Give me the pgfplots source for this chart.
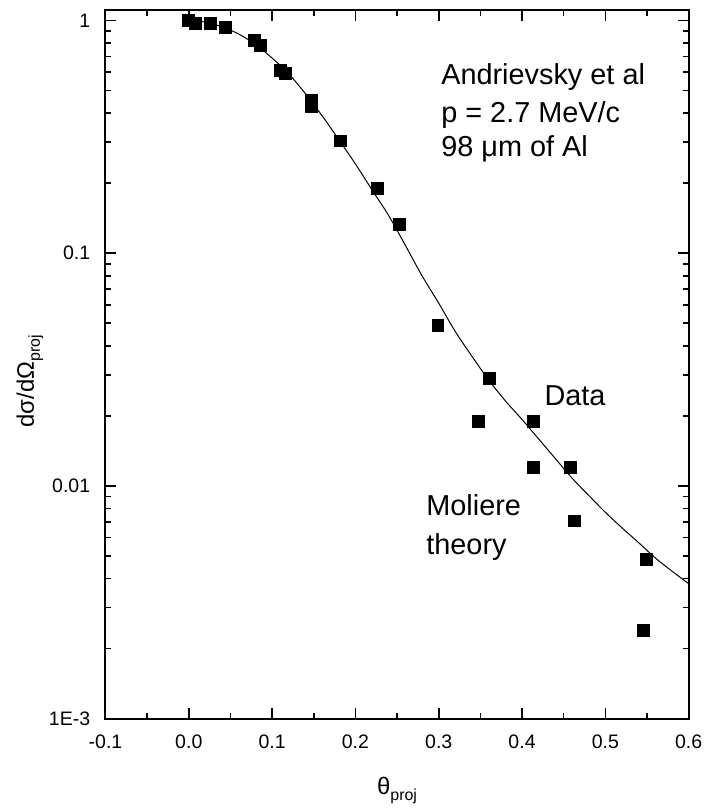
\documentclass[border=0pt]{standalone}
\usepackage{pgfplots}
\pgfplotsset{compat=1.18}
\usepackage{fontspec}
\setmainfont{Liberation Sans}

\begin{document}
\begin{tikzpicture}
\begin{axis}[
  scale only axis,
  width=293pt, height=356pt,
  xmin=-0.1, xmax=0.6,
  ymode=log, ymin=1e-3, ymax=1.111,
  axis line style={line width=1pt},
  tick align=inside,
  major tick length=5.5pt,
  minor tick length=3pt,
  every tick/.style={black, line width=0.8pt},
  xtick={-0.1,0,0.1,0.2,0.3,0.4,0.5,0.6},
  xticklabels={-0.1,0.0,0.1,0.2,0.3,0.4,0.5,0.6},
  minor xtick={-0.05,0.05,0.15,0.25,0.35,0.45,0.55},
  ytick={0.001,0.01,0.1,1},
  yticklabels={1E-3,0.01,0.1,1},
  minor ytick={0.002,0.003,0.004,0.005,0.006,0.007,0.008,0.009,
               0.02,0.03,0.04,0.05,0.06,0.07,0.08,0.09,
               0.2,0.3,0.4,0.5,0.6,0.7,0.8,0.9},
  xticklabel style={font=\fontsize{9.8}{12}\selectfont, inner sep=0pt, anchor=north, yshift=-8pt},
  yticklabel style={font=\fontsize{9.8}{12}\selectfont, inner sep=0pt, anchor=east, xshift=-7.5pt},
  xlabel={θ\raisebox{-3pt}{\fontsize{8}{9}\selectfont proj}},
  ylabel={dσ/dΩ\raisebox{-3pt}{\fontsize{8}{9}\selectfont proj}},
  every axis x label/.style={at={(axis description cs:0.5,-0.101)}, anchor=center, font=\fontsize{12}{14}\selectfont},
  every axis y label/.style={at={(axis description cs:-0.1297,0.476)}, anchor=center, rotate=90, font=\fontsize{12}{14}\selectfont},
]
% Moliere theory curve
\addplot[black, line width=0.5pt, smooth, no markers] coordinates {
(0.00,1.0) (0.02,0.985) (0.04,0.94) (0.06,0.875) (0.08,0.79) (0.10,0.69)
(0.12,0.59) (0.14,0.485) (0.16,0.39) (0.18,0.308) (0.20,0.242) (0.22,0.187)
(0.24,0.145) (0.26,0.108) (0.28,0.080) (0.30,0.061) (0.32,0.046) (0.34,0.036)
(0.36,0.0285) (0.38,0.0232) (0.40,0.0193) (0.42,0.0159) (0.44,0.0131)
(0.46,0.0108) (0.48,0.0091) (0.50,0.0077) (0.52,0.0066) (0.54,0.0057)
(0.56,0.0049) (0.58,0.0043) (0.60,0.0038)
};
% Data
\addplot[only marks, mark=square*, mark size=3pt, black] coordinates {
(0.000,1.0) (0.0075,0.977) (0.0254,0.977) (0.0434,0.931) (0.0792,0.819)
(0.0864,0.782) (0.1103,0.609) (0.1162,0.592) (0.1477,0.454) (0.1477,0.428)
(0.182,0.304) (0.2262,0.1906) (0.2524,0.1328) (0.299,0.0491) (0.3608,0.0291)
(0.348,0.019) (0.4134,0.019) (0.4134,0.012) (0.4583,0.012) (0.4627,0.00707)
(0.5496,0.00481) (0.5459,0.0024)
};
\node[anchor=base west, inner sep=0pt, font=\fontsize{14.5}{17}\selectfont] at (axis cs:0.3026,0.531) {Andrievsky et al};
\node[anchor=base west, inner sep=0pt, font=\fontsize{14.5}{17}\selectfont] at (axis cs:0.3026,0.365) {p = 2.7 MeV/c};
\node[anchor=base west, inner sep=0pt, font=\fontsize{14.5}{17}\selectfont] at (axis cs:0.3026,0.261) {98 μm of Al};
\node[anchor=base west, inner sep=0pt, font=\fontsize{14.5}{17}\selectfont] at (axis cs:0.4265,0.02205) {Data};
\node[anchor=base west, inner sep=0pt, font=\fontsize{14.5}{17}\selectfont] at (axis cs:0.2847,0.00746) {Moliere};
\node[anchor=base west, inner sep=0pt, font=\fontsize{14.5}{17}\selectfont] at (axis cs:0.2847,0.00508) {theory};
\end{axis}
\path ([shift={(-53pt,-44pt)}]current axis.south west) rectangle ([shift={(8.5pt,5pt)}]current axis.north east);
\end{tikzpicture}
\end{document}
